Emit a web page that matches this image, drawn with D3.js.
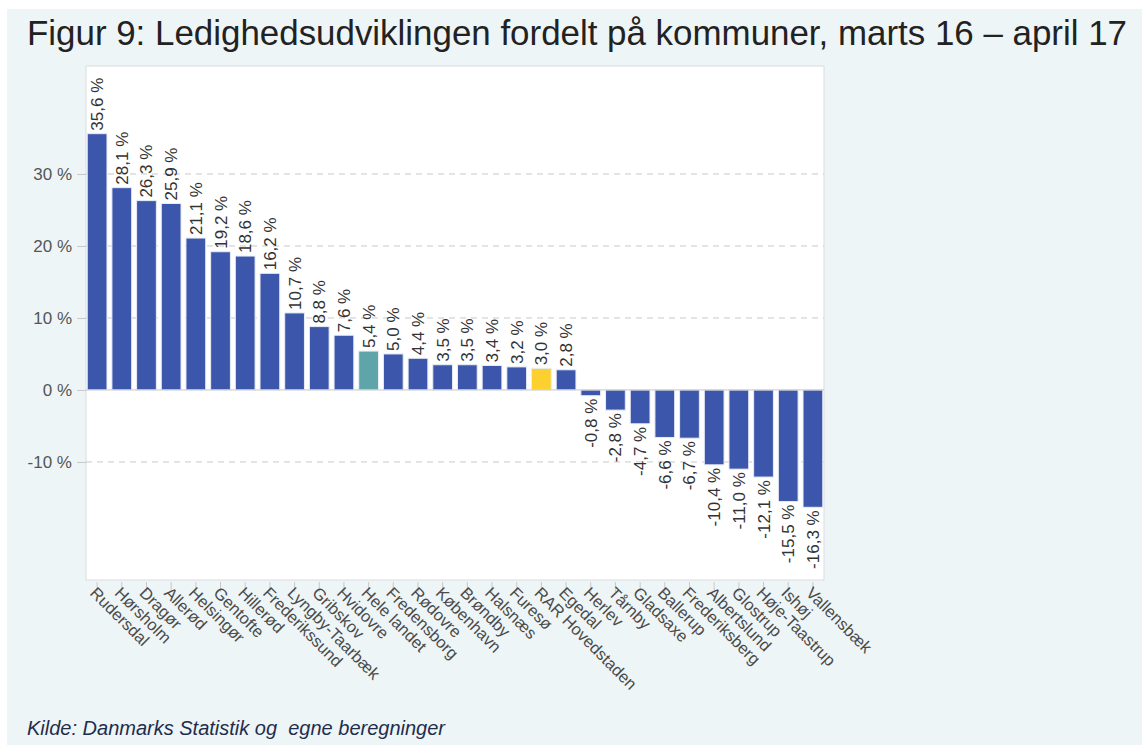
<!DOCTYPE html>
<html>
<head>
<meta charset="utf-8">
<script src="https://cdn.jsdelivr.net/npm/d3@7"></script>
<style>
  body { margin: 0; background: #fff; }
  svg { display: block; }
</style>
</head>
<body>
<svg id="viz"></svg>
<script>
const width = 1142;
const height = 745;

const categories = ["Rudersdal", "Hørsholm", "Dragør", "Allerød", "Helsingør", "Gentofte", "Hillerød",
    "Frederikssund", "Lyngby-Taarbæk", "Gribskov", "Hvidovre", "Hele landet", "Fredensborg", "Rødovre",
    "København", "Brøndby", "Halsnæs", "Furesø", "RAR Hovedstaden", "Egedal", "Herlev", "Tårnby",
    "Gladsaxe", "Ballerup", "Frederiksberg", "Albertslund", "Glostrup", "Høje-Taastrup", "Ishøj", "Vallensbæk"];
const values = [35.6, 28.1, 26.3, 25.9, 21.1, 19.2, 18.6, 16.2, 10.7, 8.8, 7.6, 5.4, 5.0, 4.4,
    3.5, 3.5, 3.4, 3.2, 3.0, 2.8, -0.8, -2.8, -4.7, -6.6, -6.7, -10.4, -11.0, -12.1, -15.5, -16.3];
const yTicks = [-10, 0, 10, 20, 30];
const highlight = { "Hele landet": "#5fa4a8", "RAR Hovedstaden": "#fcd02e" };

const data = categories.map((c, i) => ({ name: c, value: values[i] }));
const FONT = "Liberation Sans, Arial, sans-serif";

const svg = d3.select("#viz").attr("width", width).attr("height", height);

// page background
svg.append("rect").attr("width", width).attr("height", height).attr("fill", "#fff");
svg.append("rect").attr("x", 7).attr("y", 9).attr("width", width - 7).attr("height", height - 9)
    .attr("fill", "#eef5f7");

const plot = { left: 86, right: 824, top: 66, bottom: 580 };

svg.append("rect")
    .attr("x", plot.left).attr("y", plot.top)
    .attr("width", plot.right - plot.left).attr("height", plot.bottom - plot.top)
    .attr("fill", "#fff").attr("stroke", "#d9dcdf");

const x = d3.scaleBand().domain(categories).range([plot.left, plot.right])
    .paddingInner(0.2).paddingOuter(0.05);
const y = d3.scaleLinear().domain([-26.4, 45]).range([plot.bottom, plot.top]);

// grid lines
svg.append("g").selectAll("line")
    .data(yTicks.filter(d => d !== 0))
    .enter().append("line")
    .attr("x1", plot.left).attr("x2", plot.right)
    .attr("y1", d => y(d)).attr("y2", d => y(d))
    .attr("stroke", "#c8c8c8").attr("stroke-dasharray", "6,5");

// y axis
const yAxis = svg.append("g")
    .attr("transform", `translate(${plot.left},0)`)
    .call(d3.axisLeft(y).tickValues(yTicks).tickFormat(d => d + " %").tickSize(9).tickPadding(5));
yAxis.select(".domain").remove();
yAxis.selectAll(".tick line").attr("stroke", "#c8c8c8");
yAxis.selectAll("text").attr("fill", "#555").style("font-family", FONT)
    .style("font-size", "17px");

// x axis
const xAxis = svg.append("g")
    .attr("transform", `translate(0,${plot.bottom})`)
    .call(d3.axisBottom(x).tickSize(10).tickSizeOuter(0));
xAxis.select(".domain").remove();
xAxis.selectAll(".tick line").attr("stroke", "#c8c8c8").attr("y1", 2).attr("y2", 12);
xAxis.selectAll("text")
    .attr("fill", "#4a4a4a")
    .style("font-family", FONT)
    .style("font-size", "16.5px")
    .attr("text-anchor", "start")
    .attr("x", 0).attr("y", 0).attr("dy", 0)
    .attr("transform", "translate(-8,14) rotate(45)");

// bars
svg.append("g").selectAll("rect")
    .data(data)
    .enter().append("rect")
    .attr("x", d => x(d.name))
    .attr("width", x.bandwidth())
    .attr("y", d => y(Math.max(0, d.value)))
    .attr("height", d => Math.abs(y(d.value) - y(0)))
    .attr("fill", d => highlight[d.name] || "#3c56ac")
    .attr("stroke", "#e8ecf6").attr("stroke-width", 1);

// zero line
svg.append("line")
    .attr("x1", plot.left).attr("x2", plot.right)
    .attr("y1", y(0)).attr("y2", y(0))
    .attr("stroke", "#c8c8c8");

// value labels
const fmt = v => v.toFixed(1).replace(".", ",") + " %";
svg.append("g").selectAll("text")
    .data(data)
    .enter().append("text")
    .attr("transform", d => {
        const cx = x(d.name) + x.bandwidth() / 2 + 6;
        const yy = d.value >= 0 ? y(d.value) - 3 : y(d.value) + 3;
        return `translate(${cx},${yy}) rotate(-90)`;
    })
    .attr("text-anchor", d => d.value >= 0 ? "start" : "end")
    .attr("fill", "#333")
    .style("font-family", FONT)
    .style("font-size", "17px")
    .text(d => fmt(d.value));

// title
svg.append("text")
    .attr("x", 27).attr("y", 45)
    .attr("textLength", 1100).attr("lengthAdjust", "spacingAndGlyphs")
    .attr("fill", "#222")
    .style("font-family", FONT)
    .style("font-size", "35px")
    .text("Figur 9: Ledighedsudviklingen fordelt på kommuner, marts 16 – april 17");

// source
svg.append("text")
    .attr("x", 27).attr("y", 735)
    .attr("fill", "#1f2d4d")
    .style("font-family", FONT)
    .style("font-size", "20px")
    .style("font-style", "italic")
    .style("white-space", "pre")
    .text("Kilde: Danmarks Statistik og  egne beregninger");
</script>
</body>
</html>
